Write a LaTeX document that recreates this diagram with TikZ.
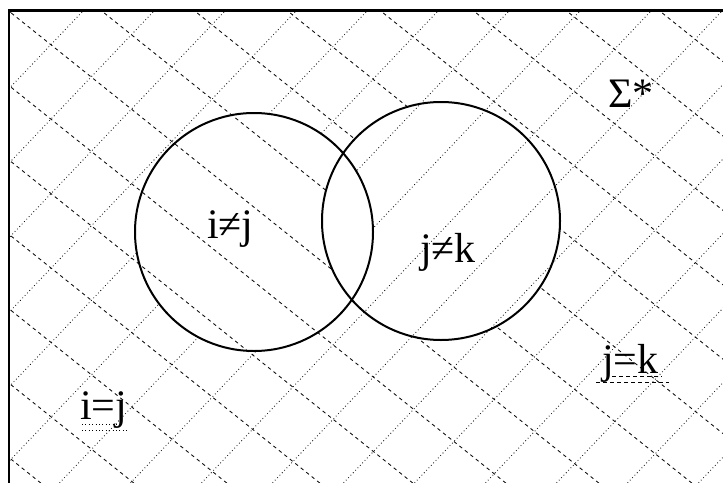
\documentclass[tikz,border=0pt]{standalone}
\usepackage{fontspec}
\setmainfont{Liberation Serif}
\begin{document}
\begin{tikzpicture}[x=1pt,y=-1pt,
  frameline/.style={line width=2.2pt},
  setcircle/.style={circle, draw, line width=2pt, minimum size=238pt, inner sep=0pt},
  dashhatch/.style={line width=0.8pt, dash pattern=on 3.5pt off 3.5pt},
  dothatch/.style={line width=0.8pt, dash pattern=on 0.8pt off 2.6pt},
  lbl/.style={inner sep=0pt, anchor=base west, font=\fontsize{42}{42}\selectfont}]
\useasboundingbox (0,0) rectangle (723,482);
% dashed hatching: everywhere except inside the right circle
\begin{scope}[even odd rule]
  \clip (9,11) rectangle (730,490) (441,221) circle[radius=119pt];
  \foreach \k in {-8,...,12}
    \draw[dashhatch] ({10+93*\k-600},{12-480}) -- ({10+93*\k+800},{12+640});
\end{scope}
% dotted hatching: everywhere except inside the left circle
\begin{scope}[even odd rule]
  \clip (9,11) rectangle (730,490) (254,232) circle[radius=119pt];
  \foreach \k in {-2,...,18}
    \draw[dothatch] ({82+71*\k-500},{12+525}) -- ({82+71*\k+100},{12-105});
\end{scope}
% frame
\draw[frameline] (9,490) -- (9,10.5) -- (730,10.5);
% circles
\node[setcircle] (A) at (254,232) {};
\node[setcircle] (B) at (441,221) {};
% labels
\node[lbl] (sigma) at (608,107) {Σ*};
\node[lbl] (ij) at (207,238) {i≠j};
\node[lbl] (jk) at (420,262) {j≠k};
\node[lbl] (ieqj) at (80,419) {i=j};
\node[lbl] (jeqk) at (602,373) {j=k};
% legend underlines
\draw[dothatch] (82,424.5) -- (117,424.5);
\draw[dothatch] (82,430) -- (127,430);
\draw[dashhatch] (612,376.7) -- (662,376.7);
\draw[dashhatch] (596,382) -- (669,382);
\end{tikzpicture}
\end{document}
